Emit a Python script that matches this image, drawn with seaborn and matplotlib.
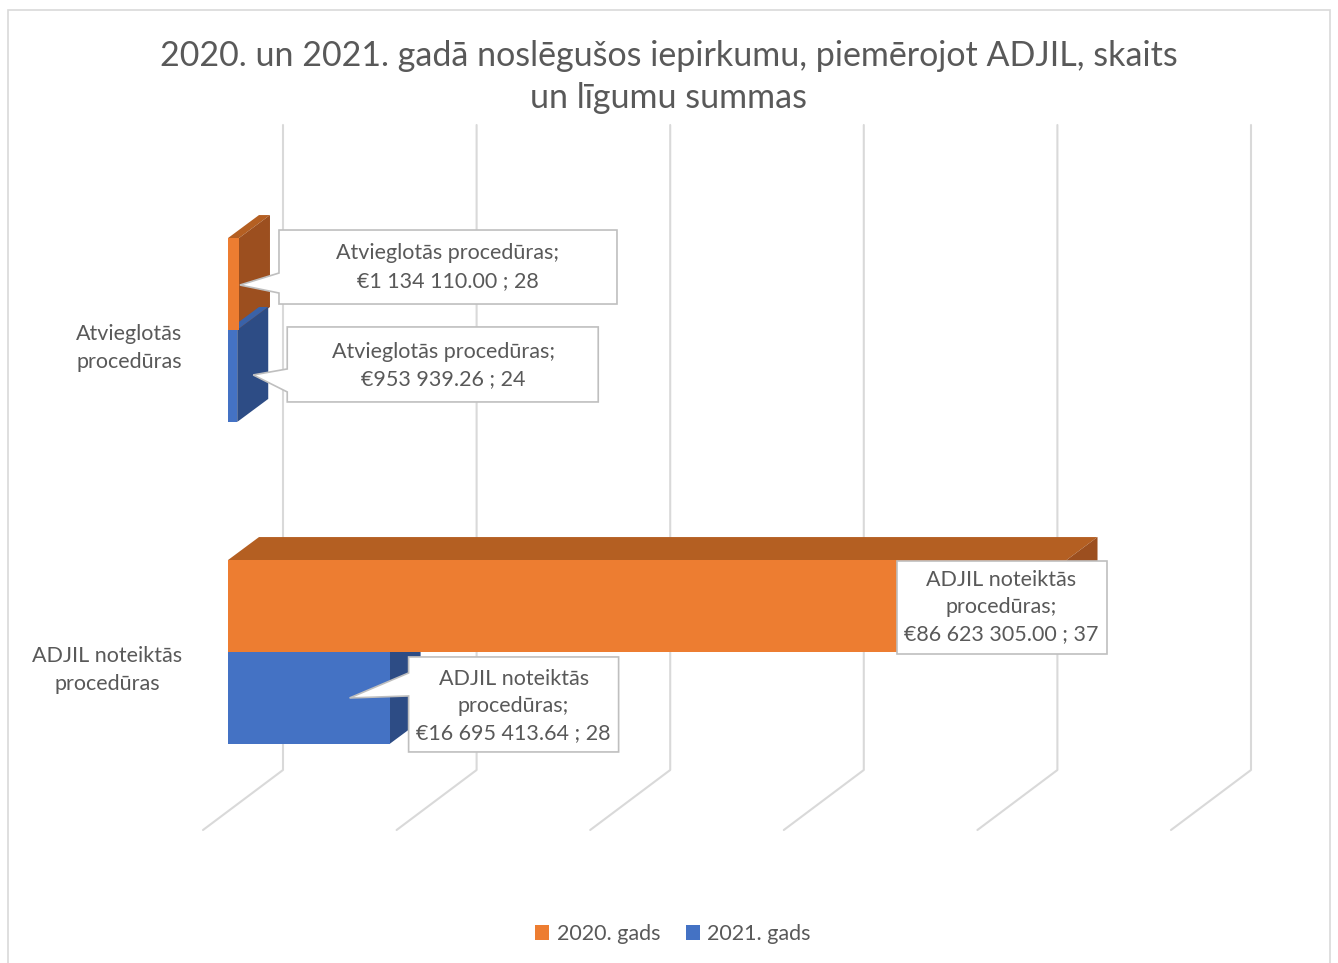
import numpy as np
import pandas as pd
import matplotlib
matplotlib.use('Agg')
import matplotlib.pyplot as plt
import matplotlib.transforms as mtransforms
from matplotlib.patches import Polygon, Rectangle
import seaborn as sns

# data
categories = ['Atvieglotās procedūras', 'ADJIL noteiktās procedūras']
category_labels = ['Atvieglotās\nprocedūras', 'ADJIL noteiktās\nprocedūras']
years = ['2020. gads', '2021. gads']
amounts_2020 = [1134110.00, 86623305.00]
amounts_2021 = [953939.26, 16695413.64]
counts_2020 = [28, 37]
counts_2021 = [24, 28]
x_max = 100e6
grid_step = 20e6

title = '2020. un 2021. gadā noslēgušos iepirkumu, piemērojot ADJIL, skaits\nun līgumu summas'

ORANGE = '#ED7D31'
BLUE = '#4472C4'
TEXT = '#595959'
GRID = '#D9D9D9'
face_colors = {  # top, side
    ORANGE: ('#B45F22', '#9C4F1F'),
    BLUE: ('#3A62A8', '#2D4C85'),
}
FS = 15.5

sns.set_theme(style='white')
plt.rcParams['font.family'] = ['Lato', 'DejaVu Sans']
plt.rcParams['text.color'] = TEXT

df = pd.DataFrame({
    'category': categories * 2,
    'year': [years[0]] * 2 + [years[1]] * 2,
    'amount': amounts_2020 + amounts_2021,
    'count': counts_2020 + counts_2021,
})

W, H, DPI = 1338, 963, 100
fig = plt.figure(figsize=(W / DPI, H / DPI), dpi=DPI)
ax = fig.add_axes([228 / W, (H - 770) / H, 968 / W, 645 / H])

sns.barplot(data=df, x='amount', y='category', hue='year', orient='h',
            palette=[ORANGE, BLUE], width=0.571, saturation=1, linewidth=0,
            legend=False, ax=ax, zorder=5)
ax.set_xlim(0, x_max)
ax.set_ylim(1.3665, -0.6366)
ax.set_xticks([])
ax.set_yticks([])
ax.set_xlabel('')
ax.set_ylabel('')
for s in ax.spines.values():
    s.set_visible(False)


def anchored(x, y):
    # pixel offsets anchored at a data point
    return mtransforms.Affine2D() + mtransforms.ScaledTranslation(x, y, ax.transData)


# back wall gridlines with floor diagonals
ylo = ax.get_ylim()[0]
for v in np.arange(0, x_max + 1, grid_step):
    ax.plot([-25, 55, 55], [-60, 0, 645], color=GRID, lw=1.5,
            transform=anchored(v, ylo), clip_on=False, zorder=0)

# fake 3D faces for each bar
DX, DY = 31, 23
for cont in ax.containers:
    for bar in cont.patches:
        col = matplotlib.colors.to_hex(bar.get_facecolor())
        top_c, side_c = face_colors.get(col.upper(), face_colors[ORANGE])
        w = bar.get_width()
        y_top = bar.get_y()
        hpx = bar.get_height() * 322
        wpx = ax.transData.transform((w, 0))[0] - ax.transData.transform((0, 0))[0]
        tr = anchored(0, y_top)
        ax.add_patch(Polygon([(0, 0), (wpx, 0), (wpx + DX, DY), (DX, DY)],
                             closed=True, fc=top_c, ec='none', transform=tr, zorder=3))
        ax.add_patch(Polygon([(wpx, 0), (wpx + DX, DY), (wpx + DX, DY - hpx), (wpx, -hpx)],
                             closed=True, fc=side_c, ec='none', transform=tr, zorder=3))


def fmt(v, n):
    return '€' + f'{v:,.2f}'.replace(',', ' ') + f' ; {n}'


def callout(x, y, box, text_xy, text, tip=None, base=None):
    l, b, r, t = box
    if tip is None:
        verts = [(l, t), (r, t), (r, b), (l, b)]
    else:
        verts = [(l, t), (r, t), (r, b), (l, b), (l, base[1]), tip, (l, base[0])]
    tr = anchored(x, y)
    ax.add_patch(Polygon(verts, closed=True, fc='white', ec='#BFBFBF', lw=1.2,
                         transform=tr, zorder=8, clip_on=False))
    ax.text(text_xy[0], text_xy[1], text, transform=tr, ha='center', va='center',
            fontsize=FS, color=TEXT, linespacing=1.45, zorder=9, clip_on=False)


bars_2020 = ax.containers[0].patches
bars_2021 = ax.containers[1].patches


def bar_end(bar):
    return bar.get_width(), bar.get_y() + bar.get_height() / 2


# Atvieglotās 2020
x, y = bar_end(bars_2020[0])
callout(x, y, (40, -20, 378, 54), (209, 17),
        categories[0] + ';\n' + fmt(amounts_2020[0], counts_2020[0]),
        tip=(1, -1), base=(11, -9))
# Atvieglotās 2021
x, y = bar_end(bars_2021[0])
callout(x, y, (50, -26, 361, 49), (206, 10),
        categories[0] + ';\n' + fmt(amounts_2021[0], counts_2021[0]),
        tip=(16, 1), base=(7, -16))
# ADJIL 2020
x, y = bar_end(bars_2020[1])
callout(x, y, (-170, -48, 40, 45), (-65, -1),
        'ADJIL noteiktās\nprocedūras;\n' + fmt(amounts_2020[1], counts_2020[1]))
# ADJIL 2021
x, y = bar_end(bars_2021[1])
callout(x, y, (19, -54, 229, 41), (124, -8),
        'ADJIL noteiktās\nprocedūras;\n' + fmt(amounts_2021[1], counts_2021[1]),
        tip=(-40, 0), base=(25, 2))

# category labels
lab_tr = mtransforms.offset_copy(ax.get_yaxis_transform(), fig=fig, x=-46, y=-18, units='dots')
for i, lab in enumerate(category_labels):
    ax.text(0, i, lab, transform=lab_tr, ha='right', va='center', multialignment='center',
            fontsize=FS, color=TEXT, linespacing=1.45)

# title
fig.text(669 / W, 1 - 77 / H, title, ha='center', va='center', fontsize=24.5,
         color=TEXT, linespacing=1.35)

# legend
handles = [ax.containers[0].patches[0], ax.containers[1].patches[0]]
fig.legend(handles, years, loc='center', bbox_to_anchor=(673 / W, 1 - 934 / H),
           ncol=2, frameon=False, fontsize=FS, handlelength=0.65, handleheight=0.65,
           handletextpad=0.35, columnspacing=1.2, labelcolor=TEXT)

# chart border
fig.patches.append(Rectangle((8 / W, -0.05), 1322 / W, 1 - 10 / H + 0.05,
                             transform=fig.transFigure, fill=False, ec=GRID, lw=1.2))

fig.savefig('out.png', dpi=DPI, facecolor='white')
